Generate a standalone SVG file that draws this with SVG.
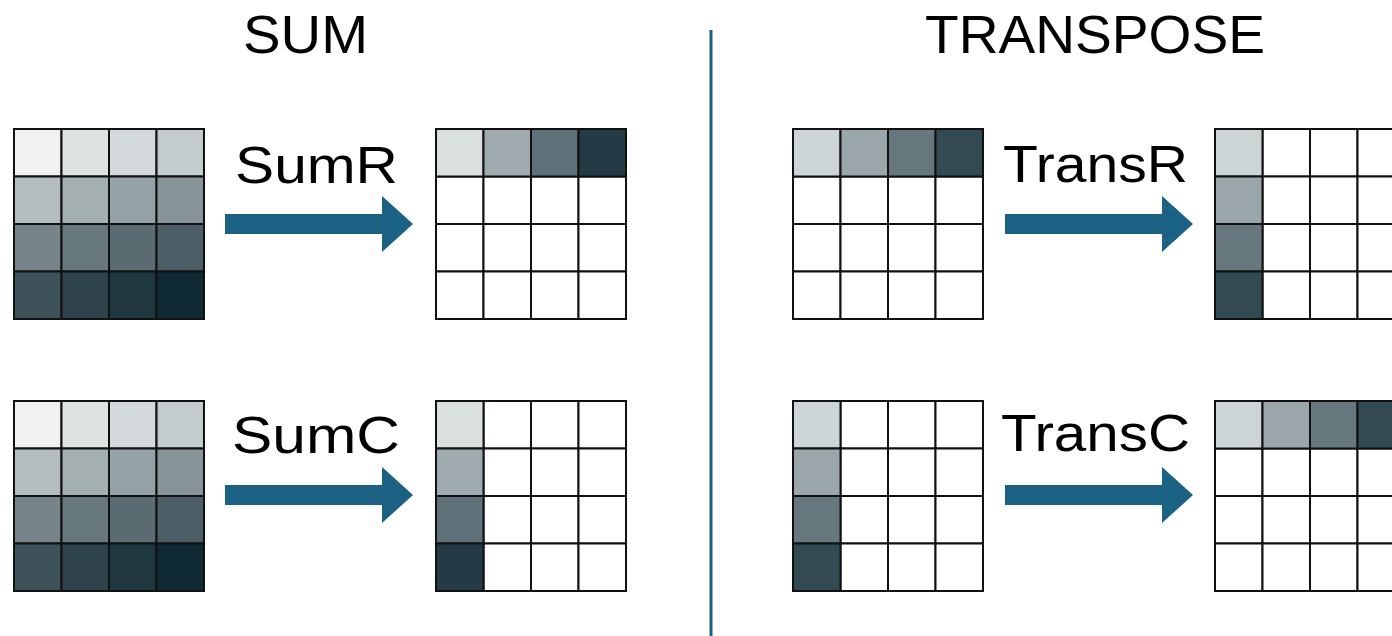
<svg xmlns="http://www.w3.org/2000/svg" width="1392" height="636" viewBox="0 0 1392 636">
<style>
.t{font-family:"Liberation Sans",Arial,sans-serif;fill:#000;}
.h{font-size:53px;}
.l{font-size:52px;}
.c rect{stroke:#111;stroke-width:2;}
.arr{fill:#1b6184;}
</style>
<defs>
<g id="blank" fill="#ffffff" stroke="#111111" stroke-width="2">
<rect x="0" y="0" width="47.5" height="47.5"/><rect x="47.5" y="0" width="47.5" height="47.5"/><rect x="95" y="0" width="47.5" height="47.5"/><rect x="142.5" y="0" width="47.5" height="47.5"/>
<rect x="0" y="47.5" width="47.5" height="47.5"/><rect x="47.5" y="47.5" width="47.5" height="47.5"/><rect x="95" y="47.5" width="47.5" height="47.5"/><rect x="142.5" y="47.5" width="47.5" height="47.5"/>
<rect x="0" y="95" width="47.5" height="47.5"/><rect x="47.5" y="95" width="47.5" height="47.5"/><rect x="95" y="95" width="47.5" height="47.5"/><rect x="142.5" y="95" width="47.5" height="47.5"/>
<rect x="0" y="142.5" width="47.5" height="47.5"/><rect x="47.5" y="142.5" width="47.5" height="47.5"/><rect x="95" y="142.5" width="47.5" height="47.5"/><rect x="142.5" y="142.5" width="47.5" height="47.5"/>
</g>
<g id="grad" stroke="#111111" stroke-width="2">
<rect fill="#f0f2f2" x="0" y="0" width="47.5" height="47.5"/><rect fill="#dfe3e4" x="47.5" y="0" width="47.5" height="47.5"/><rect fill="#d4dadb" x="95" y="0" width="47.5" height="47.5"/><rect fill="#c4cbcd" x="142.5" y="0" width="47.5" height="47.5"/>
<rect fill="#b4bdc0" x="0" y="47.5" width="47.5" height="47.5"/><rect fill="#a4afb2" x="47.5" y="47.5" width="47.5" height="47.5"/><rect fill="#95a2a7" x="95" y="47.5" width="47.5" height="47.5"/><rect fill="#869498" x="142.5" y="47.5" width="47.5" height="47.5"/>
<rect fill="#768589" x="0" y="95" width="47.5" height="47.5"/><rect fill="#68797e" x="47.5" y="95" width="47.5" height="47.5"/><rect fill="#5a6c72" x="95" y="95" width="47.5" height="47.5"/><rect fill="#4c5f66" x="142.5" y="95" width="47.5" height="47.5"/>
<rect fill="#3d5259" x="0" y="142.5" width="47.5" height="47.5"/><rect fill="#2e434b" x="47.5" y="142.5" width="47.5" height="47.5"/><rect fill="#1f373f" x="95" y="142.5" width="47.5" height="47.5"/><rect fill="#102a33" x="142.5" y="142.5" width="47.5" height="47.5"/>
</g>
<path id="arrow" d="M0,0 H157 V-18 L188,10 L157,38 V20 H0 Z"/>
</defs>

<text class="t h" x="243" y="53" textLength="125" lengthAdjust="spacingAndGlyphs">SUM</text>
<text class="t h" x="925" y="53" textLength="340" lengthAdjust="spacingAndGlyphs">TRANSPOSE</text>

<line x1="711" y1="30" x2="711" y2="636" stroke="#1b6184" stroke-width="3"/>

<g id="sum-r-in" class="c" transform="translate(14,129)"><use href="#grad"/></g>
<g id="sum-r-out" class="c" transform="translate(436,129)">
<use href="#blank"/>
<rect fill="#dadfe0" x="0" y="0" width="47.5" height="47.5"/><rect fill="#a0abaf" x="47.5" y="0" width="47.5" height="47.5"/><rect fill="#5f7178" x="95" y="0" width="47.5" height="47.5"/><rect fill="#243b45" x="142.5" y="0" width="47.5" height="47.5"/>
</g>
<g id="sum-c-in" class="c" transform="translate(14,401)"><use href="#grad"/></g>
<g id="sum-c-out" class="c" transform="translate(436,401)">
<use href="#blank"/>
<rect fill="#dadfe0" x="0" y="0" width="47.5" height="47.5"/><rect fill="#a0abaf" x="0" y="47.5" width="47.5" height="47.5"/><rect fill="#5f7178" x="0" y="95" width="47.5" height="47.5"/><rect fill="#243b45" x="0" y="142.5" width="47.5" height="47.5"/>
</g>
<g id="trans-r-in" class="c" transform="translate(793,129)">
<use href="#blank"/>
<rect fill="#ccd4d6" x="0" y="0" width="47.5" height="47.5"/><rect fill="#9aa6aa" x="47.5" y="0" width="47.5" height="47.5"/><rect fill="#66787d" x="95" y="0" width="47.5" height="47.5"/><rect fill="#324a52" x="142.5" y="0" width="47.5" height="47.5"/>
</g>
<g id="trans-r-out" class="c" transform="translate(1215,129)">
<use href="#blank"/>
<rect fill="#ccd4d6" x="0" y="0" width="47.5" height="47.5"/><rect fill="#9aa6aa" x="0" y="47.5" width="47.5" height="47.5"/><rect fill="#66787d" x="0" y="95" width="47.5" height="47.5"/><rect fill="#324a52" x="0" y="142.5" width="47.5" height="47.5"/>
</g>
<g id="trans-c-in" class="c" transform="translate(793,401)">
<use href="#blank"/>
<rect fill="#ccd4d6" x="0" y="0" width="47.5" height="47.5"/><rect fill="#9aa6aa" x="0" y="47.5" width="47.5" height="47.5"/><rect fill="#66787d" x="0" y="95" width="47.5" height="47.5"/><rect fill="#324a52" x="0" y="142.5" width="47.5" height="47.5"/>
</g>
<g id="trans-c-out" class="c" transform="translate(1215,401)">
<use href="#blank"/>
<rect fill="#ccd4d6" x="0" y="0" width="47.5" height="47.5"/><rect fill="#9aa6aa" x="47.5" y="0" width="47.5" height="47.5"/><rect fill="#66787d" x="95" y="0" width="47.5" height="47.5"/><rect fill="#324a52" x="142.5" y="0" width="47.5" height="47.5"/>
</g>

<g id="connectors">
<use href="#arrow" class="arr" transform="translate(225,214)"/>
<use href="#arrow" class="arr" transform="translate(225,485)"/>
<use href="#arrow" class="arr" transform="translate(1005,214)"/>
<use href="#arrow" class="arr" transform="translate(1005,485)"/>
<text class="t l" x="235" y="183" textLength="163" lengthAdjust="spacingAndGlyphs">SumR</text>
<text class="t l" x="232" y="453" textLength="168" lengthAdjust="spacingAndGlyphs">SumC</text>
<text class="t l" x="1003" y="182" textLength="185" lengthAdjust="spacingAndGlyphs">TransR</text>
<text class="t l" x="1001" y="451" textLength="189" lengthAdjust="spacingAndGlyphs">TransC</text>
</g>
</svg>
